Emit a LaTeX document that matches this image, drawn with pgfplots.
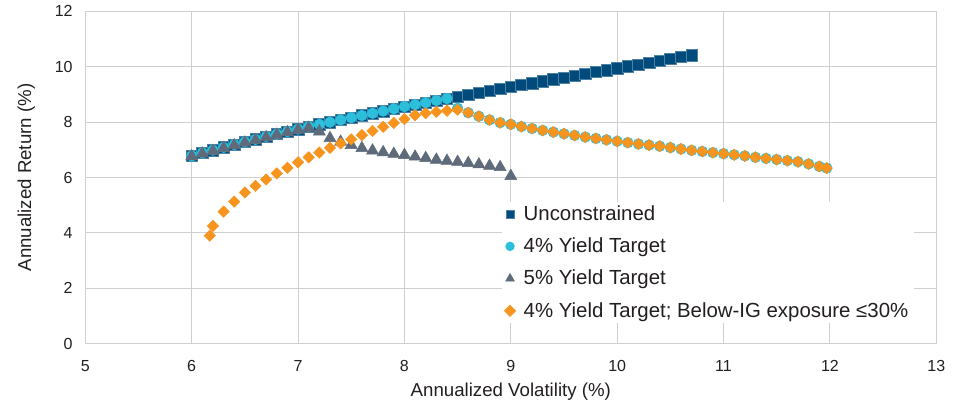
\documentclass[border=0pt]{standalone}
\usepackage{fontspec}
\setmainfont{Liberation Sans}
\usepackage{pgfplots}
\pgfplotsset{compat=1.18}
\definecolor{cUn}{HTML}{004B7C}
\definecolor{cFour}{HTML}{2BBFDB}
\definecolor{cFive}{HTML}{5F6B7B}
\definecolor{cOr}{HTML}{F7941E}
\definecolor{gridc}{HTML}{CFCFCF}
\definecolor{txt}{HTML}{231F20}
\begin{document}
\begin{tikzpicture}
\begin{axis}[
  at={(0,0)}, anchor=south west,
  scale only axis, width=638.25pt, height=249.3pt,
  xmin=5, xmax=13, ymin=0, ymax=12,
  xtick={5,6,...,13}, ytick={0,2,...,12},
  grid=major, major grid style={draw=gridc, line width=0.8pt},
  axis line style={draw=gridc, line width=0.8pt},
  tick style={draw=none},
  /pgf/number format/assume math mode=true,
  ticklabel style={font=\fontsize{12}{14}\selectfont, text=txt},
  xticklabel style={yshift=-9pt},
  yticklabel style={xshift=-6pt},
  xlabel={Annualized Volatility (\%)},
  ylabel={Annualized Return (\%)},
  label style={font=\fontsize{14}{16}\selectfont, text=txt},
  xlabel style={at={(axis description cs:0.5,-0.1445)}, anchor=center},
  ylabel style={at={(axis description cs:-0.0695,0.5)}, anchor=center},
  legend style={at={(0.489,0.428)}, anchor=north west, fill=white, draw=none,
    font=\fontsize{15.3}{18}\selectfont, text=txt, row sep=7.6pt,
    inner xsep=2pt, inner ysep=1pt,
    /tikz/every odd column/.append style={column sep=4pt}},
  legend cell align=left,
]
\addplot[only marks, mark=square*, mark size=4.3pt, color=cUn,
  mark options={draw=cUn!70!white, line width=0.4pt, fill=cUn},
  legend image post style={mark size=2.9pt}]
coordinates {
(6.0,6.78)(6.1,6.89)(6.2,6.99)(6.3,7.09)(6.4,7.19)(6.5,7.29)(6.6,7.38)(6.7,7.48)(6.8,7.57)(6.9,7.66)
(7.0,7.75)(7.1,7.84)(7.2,7.92)(7.3,8.00)(7.4,8.08)(7.5,8.16)(7.6,8.24)(7.7,8.32)(7.8,8.40)(7.9,8.48)
(8.0,8.56)(8.1,8.63)(8.2,8.70)(8.3,8.78)(8.4,8.85)(8.5,8.92)(8.6,8.99)(8.7,9.06)(8.8,9.14)(8.9,9.21)
(9.0,9.28)(9.1,9.35)(9.2,9.41)(9.3,9.48)(9.4,9.55)(9.5,9.61)(9.6,9.68)(9.7,9.75)(9.8,9.81)(9.9,9.88)
(10.0,9.94)(10.1,10.01)(10.2,10.08)(10.3,10.15)(10.4,10.22)(10.5,10.28)(10.6,10.35)(10.7,10.42)
};
\addlegendentry{Unconstrained}
\addplot[only marks, mark=*, mark size=4.0pt, color=cFour,
  mark options={draw=cFour, fill=cFour},
  legend image post style={mark size=3.3pt}]
coordinates {
(6.0,6.78)(6.1,6.89)(6.2,6.99)(6.3,7.09)(6.4,7.19)(6.5,7.29)(6.6,7.38)(6.7,7.48)(6.8,7.57)(6.9,7.66)
(7.0,7.75)(7.1,7.84)(7.2,7.92)(7.3,8.00)(7.4,8.08)(7.5,8.16)(7.6,8.24)(7.7,8.32)(7.8,8.40)(7.9,8.48)
(8.0,8.56)(8.1,8.63)(8.2,8.70)(8.3,8.78)(8.4,8.85)(8.5,8.50)
(8.6,8.34)(8.7,8.21)(8.8,8.08)(8.9,7.98)(9.0,7.92)(9.1,7.84)(9.2,7.77)(9.3,7.70)(9.4,7.64)(9.5,7.58)
(9.6,7.52)(9.7,7.46)(9.8,7.41)(9.9,7.36)(10.0,7.31)(10.1,7.26)(10.2,7.21)(10.3,7.17)(10.4,7.13)(10.5,7.08)
(10.6,7.03)(10.7,6.98)(10.8,6.94)(10.9,6.90)(11.0,6.86)(11.1,6.82)(11.2,6.78)(11.3,6.73)(11.4,6.69)(11.5,6.65)
(11.6,6.61)(11.7,6.57)(11.8,6.49)(11.9,6.40)(11.97,6.34)
};
\addlegendentry{4\% Yield Target}
\addplot[only marks, mark=triangle*, mark size=5.2pt, color=cFive,
  mark options={draw=cFive, fill=cFive},
  legend image post style={mark size=3.8pt}]
coordinates {
(6.0,6.76)(6.1,6.86)(6.2,6.96)(6.3,7.06)(6.4,7.16)(6.5,7.26)(6.6,7.35)(6.7,7.45)(6.8,7.54)(6.9,7.63)
(7.0,7.72)(7.1,7.79)(7.2,7.66)(7.3,7.42)(7.4,7.29)(7.5,7.17)(7.6,7.06)(7.7,6.97)(7.8,6.91)(7.9,6.85)
(8.0,6.81)(8.1,6.75)(8.2,6.70)(8.3,6.64)(8.4,6.60)(8.5,6.56)(8.6,6.52)(8.7,6.47)(8.8,6.42)(8.9,6.37)
(9.0,6.05)
};
\addlegendentry{5\% Yield Target}
\addplot[only marks, mark=square*, mark size=3.0pt, color=cOr,
  mark options={rotate=45, draw=cOr, fill=cOr},
  legend image post style={mark size=3.0pt}]
coordinates {
(6.17,3.90)(6.20,4.25)(6.30,4.77)(6.40,5.13)(6.50,5.46)(6.60,5.70)(6.70,5.93)(6.80,6.15)(6.90,6.35)
(7.00,6.55)(7.10,6.73)(7.20,6.90)(7.30,7.07)(7.40,7.23)(7.50,7.38)(7.60,7.53)(7.70,7.68)(7.80,7.83)(7.90,7.97)
(8.00,8.11)(8.10,8.25)(8.20,8.32)(8.30,8.37)(8.40,8.41)(8.50,8.45)
(8.6,8.34)(8.7,8.21)(8.8,8.08)(8.9,7.98)(9.0,7.92)(9.1,7.84)(9.2,7.77)(9.3,7.70)(9.4,7.64)(9.5,7.58)
(9.6,7.52)(9.7,7.46)(9.8,7.41)(9.9,7.36)(10.0,7.31)(10.1,7.26)(10.2,7.21)(10.3,7.17)(10.4,7.13)(10.5,7.08)
(10.6,7.03)(10.7,6.98)(10.8,6.94)(10.9,6.90)(11.0,6.86)(11.1,6.82)(11.2,6.78)(11.3,6.73)(11.4,6.69)(11.5,6.65)
(11.6,6.61)(11.7,6.57)(11.8,6.49)(11.9,6.40)(11.97,6.34)
};
\addlegendentry{4\% Yield Target; Below-IG exposure ≤30\%}
\end{axis}
\pgfresetboundingbox
\path[use as bounding box] (-64pt,-43.7pt) rectangle (658.3pt,257.8pt);
\end{tikzpicture}
\end{document}
